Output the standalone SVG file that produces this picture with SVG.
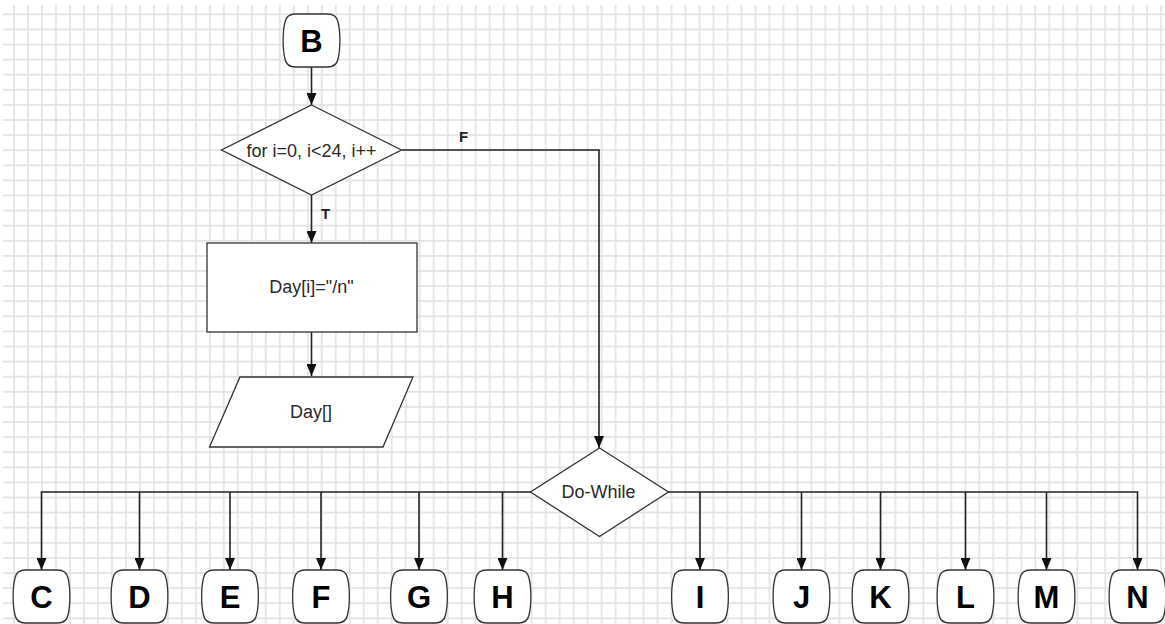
<svg xmlns="http://www.w3.org/2000/svg" width="1165" height="624" viewBox="0 0 1165 624">
  <defs>
    <pattern id="grid" patternUnits="userSpaceOnUse" x="7" y="6.75" width="13.99" height="15.1">
      <line x1="7" y1="0" x2="7" y2="15.1" stroke="#e1e1e1" stroke-width="1.6"/>
      <line x1="0" y1="7.55" x2="13.99" y2="7.55" stroke="#e1e1e1" stroke-width="1.6"/>
    </pattern>
    <marker id="arrow" markerUnits="userSpaceOnUse" markerWidth="12" markerHeight="10" viewBox="0 0 12 10" refX="12" refY="5" orient="auto">
      <path d="M0,0 L12,5 L0,10 z" fill="#111"/>
    </marker>
    <!-- barrel-shaped connector token, 57 x 53, origin at top centre -->
    <path id="token" d="M-16,0 H16 C23,0 25.5,3 26.5,8 C29,18 29,35 26.5,45 C25.5,50 23,53 16,53 H-16 C-23,53 -25.5,50 -26.5,45 C-29,35 -29,18 -26.5,8 C-25.5,3 -23,0 -16,0 Z"/>
  </defs>
  <style>
    .shape { fill: #ffffff; stroke: #333333; stroke-width: 1.3; }
    .label { font-family: "Liberation Sans", Arial, sans-serif; font-size: 18px; fill: #2a2a2a; text-anchor: middle; }
    .tag { font-family: "Liberation Sans", Arial, sans-serif; font-size: 31px; font-weight: bold; fill: #000000; text-anchor: middle; }
    .edge { font-family: "Liberation Sans", Arial, sans-serif; font-size: 15px; font-weight: bold; fill: #222222; }
    .wire { fill: none; stroke: #222222; stroke-width: 1.6; }
  </style>

  <rect width="1165" height="624" fill="#ffffff"/>
  <rect x="3" y="5" width="1162" height="619" fill="url(#grid)"/>

  <g id="connectors">
    <path class="wire" d="M311.5,67 V105" marker-end="url(#arrow)"/>
    <path class="wire" d="M311.5,195 V243" marker-end="url(#arrow)"/>
    <path class="wire" d="M311.5,332 V376" marker-end="url(#arrow)"/>
    <path class="wire" d="M402,150 H599 V448" marker-end="url(#arrow)"/>
    <path class="wire" d="M531,492 H41.5 V570" marker-end="url(#arrow)"/>
    <path class="wire" d="M139.5,492 V570" marker-end="url(#arrow)"/>
    <path class="wire" d="M230,492 V570" marker-end="url(#arrow)"/>
    <path class="wire" d="M321,492 V570" marker-end="url(#arrow)"/>
    <path class="wire" d="M419,492 V570" marker-end="url(#arrow)"/>
    <path class="wire" d="M502.5,492 V570" marker-end="url(#arrow)"/>
    <path class="wire" d="M668,492 H1137.5 V570" marker-end="url(#arrow)"/>
    <path class="wire" d="M700,492 V570" marker-end="url(#arrow)"/>
    <path class="wire" d="M801.5,492 V570" marker-end="url(#arrow)"/>
    <path class="wire" d="M880.5,492 V570" marker-end="url(#arrow)"/>
    <path class="wire" d="M965.5,492 V570" marker-end="url(#arrow)"/>
    <path class="wire" d="M1046.5,492 V570" marker-end="url(#arrow)"/>
    <text class="edge" x="459" y="142">F</text>
    <text class="edge" x="321" y="219">T</text>
  </g>

  <g id="node-B">
    <use href="#token" class="shape" x="311.5" y="14"/>
    <text class="tag" x="311.5" y="52">B</text>
  </g>

  <g id="node-for">
    <path class="shape" d="M311.5,105 L401.5,150 L311.5,195 L221.5,150 Z"/>
    <text class="label" x="311.5" y="157">for i=0, i&lt;24, i++</text>
  </g>

  <g id="node-assign">
    <rect class="shape" x="207" y="243" width="210" height="89"/>
    <text class="label" x="311.5" y="293">Day[i]="/n"</text>
  </g>

  <g id="node-output">
    <path class="shape" d="M240,377 L413,377 L383,447 L209.5,447 Z"/>
    <text class="label" x="311" y="418">Day[]</text>
  </g>

  <g id="node-dowhile">
    <path class="shape" d="M599.5,448 L668.5,492 L599.5,536.5 L530.5,492 Z"/>
    <text class="label" x="598.5" y="498">Do-While</text>
  </g>

  <g id="node-C"><use href="#token" class="shape" x="41.5" y="570"/><text class="tag" x="41.5" y="608">C</text></g>
  <g id="node-D"><use href="#token" class="shape" x="139.5" y="570"/><text class="tag" x="139.5" y="608">D</text></g>
  <g id="node-E"><use href="#token" class="shape" x="230" y="570"/><text class="tag" x="230" y="608">E</text></g>
  <g id="node-F"><use href="#token" class="shape" x="321" y="570"/><text class="tag" x="321" y="608">F</text></g>
  <g id="node-G"><use href="#token" class="shape" x="419" y="570"/><text class="tag" x="419" y="608">G</text></g>
  <g id="node-H"><use href="#token" class="shape" x="502.5" y="570"/><text class="tag" x="502.5" y="608">H</text></g>
  <g id="node-I"><use href="#token" class="shape" x="700" y="570"/><text class="tag" x="700" y="608">I</text></g>
  <g id="node-J"><use href="#token" class="shape" x="801.5" y="570"/><text class="tag" x="801.5" y="608">J</text></g>
  <g id="node-K"><use href="#token" class="shape" x="880.5" y="570"/><text class="tag" x="880.5" y="608">K</text></g>
  <g id="node-L"><use href="#token" class="shape" x="965.5" y="570"/><text class="tag" x="965.5" y="608">L</text></g>
  <g id="node-M"><use href="#token" class="shape" x="1046.5" y="570"/><text class="tag" x="1046.5" y="608">M</text></g>
  <g id="node-N"><use href="#token" class="shape" x="1137.5" y="570"/><text class="tag" x="1137.5" y="608">N</text></g>
</svg>
